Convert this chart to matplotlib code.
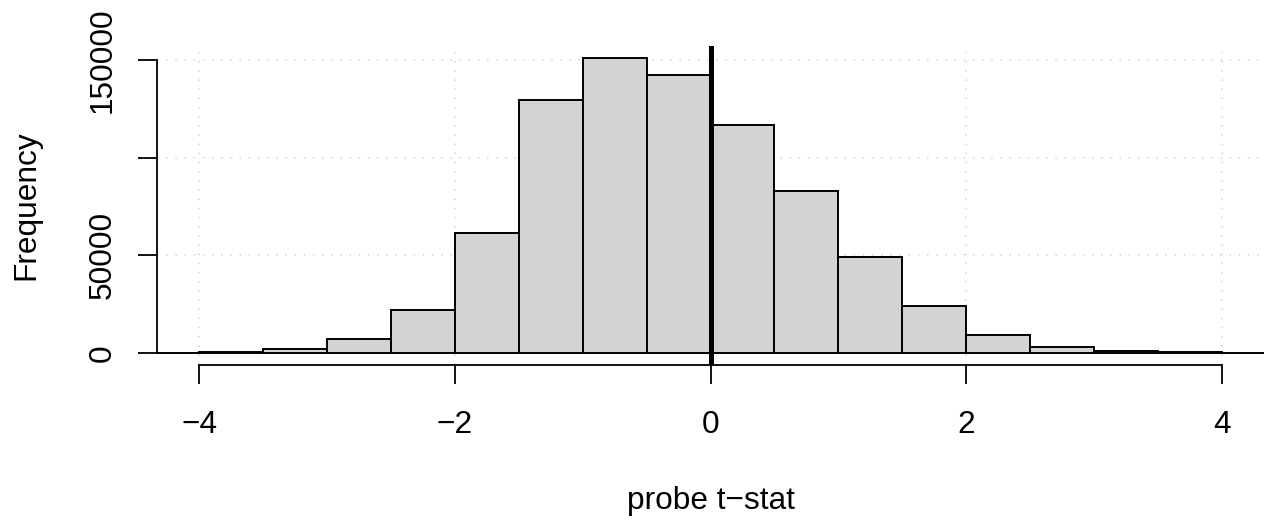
import matplotlib
matplotlib.use('Agg')
import matplotlib.pyplot as plt
import numpy as np

# histogram of probe t-statistics, bin width 0.5
bin_edges = [-5.0, -4.5, -4.0, -3.5, -3.0, -2.5, -2.0, -1.5, -1.0, -0.5,
             0.0, 0.5, 1.0, 1.5, 2.0, 2.5, 3.0, 3.5, 4.0, 4.5, 5.0]
counts = [0, 100, 500, 2000, 7100, 22000, 61500, 129500, 151000, 142300,
          116700, 83000, 49200, 24000, 9400, 3300, 1200, 300, 80, 0]
x_ticks = [-4, -2, 0, 2, 4]
y_ticks = [0, 50000, 100000, 150000]
y_ticklabels = ['0', '50000', '', '150000']

plt.rcParams['font.family'] = ['Liberation Sans', 'DejaVu Sans']
FS = 22.8

fig = plt.figure(figsize=(12.72, 5.2), dpi=100)
ax = fig.add_axes([157 / 1272, 1 - 365 / 520, (1264 - 157) / 1272, (365 - 46) / 520])

left = np.array(bin_edges[:-1])
widths = np.diff(bin_edges)
ax.bar(left, counts, width=widths, align='edge', color='#d3d3d3',
       edgecolor='black', linewidth=1.4, zorder=2)

ax.axvline(0, color='black', linewidth=3.6, zorder=3)

# R style dotted grid
for x in x_ticks:
    ax.axvline(x, color='#d3d3d3', linestyle=(0, (1, 5)), linewidth=1.1, zorder=1)
for y in y_ticks:
    ax.axhline(y, color='#d3d3d3', linestyle=(0, (1, 5)), linewidth=1.1, zorder=1)

ax.set_xlim(-4.33, 4.33)
ax.set_ylim(-6100, 157200)

for s in ['top', 'right']:
    ax.spines[s].set_visible(False)
ax.spines['left'].set_bounds(0, 150000)
ax.spines['bottom'].set_bounds(-4, 4)
ax.spines['left'].set_linewidth(1.3)
ax.spines['bottom'].set_linewidth(1.3)

ax.set_xticks(x_ticks)
ax.set_xticklabels([str(t).replace('-', '\u2212') for t in x_ticks])
ax.set_yticks(y_ticks)
ax.set_yticklabels(y_ticklabels, rotation=90, va='center')
ax.tick_params(axis='both', length=13.7, width=1.3, labelsize=FS)
ax.tick_params(axis='x', pad=18.7)
ax.tick_params(axis='y', pad=14.6)

ax.set_xlabel('probe t\u2212stat', fontsize=FS, labelpad=33)
ax.set_ylabel('Frequency', fontsize=FS, labelpad=33)

fig.savefig('out.png', dpi=100)
